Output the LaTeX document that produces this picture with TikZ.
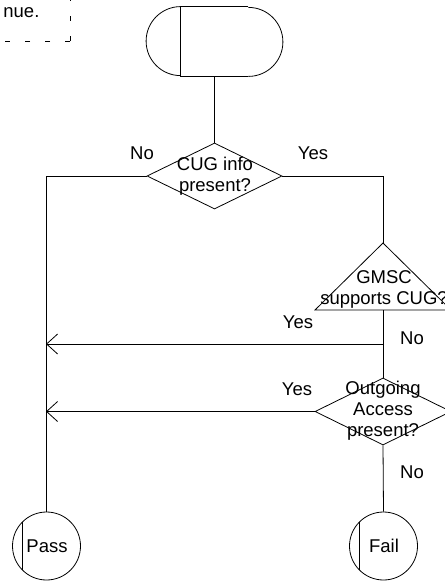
\documentclass[tikz,border=0pt]{standalone}
\usepackage{fontspec}
\setmainfont{Liberation Sans}
\usetikzlibrary{shapes.geometric,arrows.meta}
\begin{document}
\begin{tikzpicture}[x=1bp,y=-1bp, line width=0.8bp,
  every node/.style={font=\fontsize{18.5bp}{21bp}\selectfont},
  decision/.style={shape=diamond, draw, minimum width=135bp, minimum height=66bp, inner sep=0pt},
  terminal/.style={shape=circle, draw, minimum size=68bp, inner sep=0pt},
  caption/.style={align=center, inner sep=0pt},
  toleft/.style={-{Straight Barb[length=11bp,width=20bp]}},
  note/.style={dash pattern=on 5bp off 15bp}]

% page frame
\path[use as bounding box, clip] (0,0) rectangle (445,585);

% corner of the comment box
\draw[note] (70,41) -- (0,41);
\draw[note] (70,41) -- (70,0);
\node[anchor=base west, inner sep=0pt] (notetext) at (3,18) {nue.};

% start symbol
\node[minimum width=67bp, minimum height=69bp, inner sep=0pt] (start) at (214.5,41.5) {};
\draw (start.north east) -- (start.north west) -- (start.south west) -- (start.south east);
\draw (start.north west) arc[start angle=90, end angle=270, radius=34.5bp];
\draw (start.south east) arc[start angle=-90, end angle=90, radius=34.5bp];

% first decision
\node[decision] (cug) at (214.5,176) {};
\node[caption] (cugtext) at (215,176) {CUG info\\present?};

% triangle decision
\coordinate (gmscapex) at (383,243);
\coordinate (gmscbase) at (383,310);
\draw (315,310) -- (gmscapex) -- (451,310) -- cycle;
\node[caption] (gmsctext) at (384,289) {GMSC\\supports CUG?};

% second decision
\node[decision, minimum width=136bp, minimum height=67bp] (oa) at (383,411.5) {};
\node[caption] (oatext) at (383,411) {Outgoing\\Access\\present?};

% end symbols
\node[terminal] (pass) at (46.5,546) {\hspace{1bp}Pass};
\node[terminal] (fail) at (383.5,546) {\hspace{1bp}Fail};
\draw ([xshift=-24bp]pass.center) ++(0,-24) -- ++(0,48);
\draw ([xshift=-24.5bp]fail.center) ++(0,-24) -- ++(0,48);

% connectors
\coordinate (leftrail) at (46,176);
\coordinate (rightrail) at (383,176);
\coordinate (nojoin) at (383,344);
\coordinate (passjoin1) at (46,344);
\coordinate (passjoin2) at (46,411.5);

\draw (start.south) -- (cug.north);
\draw (cug.west) -- (leftrail) -- (leftrail |- pass.north);
\draw (cug.east) -- (rightrail) -- (gmscapex);
\draw (gmscbase) -- (oa.north);
\draw[toleft] (nojoin) -- (passjoin1);
\draw[toleft] (oa.west) -- (passjoin2);
\draw (oa.south) -- (fail.north);

% branch labels
\node (l1) at (142,153) {No};
\node (l2) at (313,153) {Yes};
\node (l3) at (298,322) {Yes};
\node (l4) at (412,338) {No};
\node (l5) at (297,389) {Yes};
\node (l6) at (412,472) {No};
\end{tikzpicture}
\end{document}
